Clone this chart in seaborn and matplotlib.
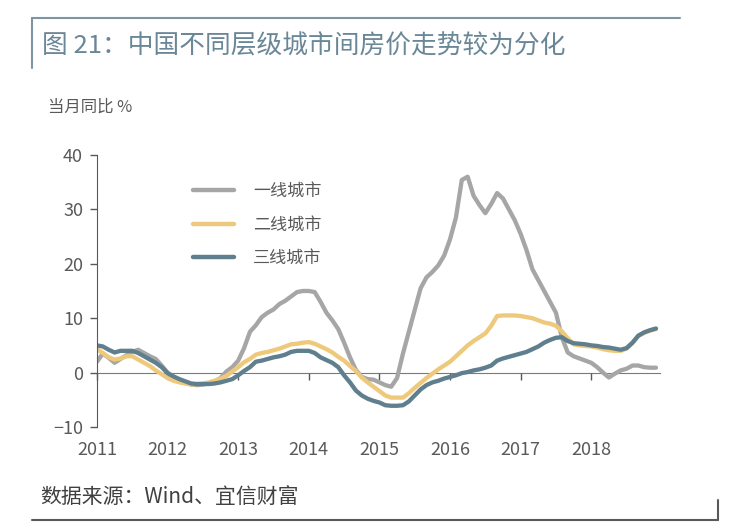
import numpy as np
import pandas as pd
import matplotlib
matplotlib.use('Agg')
import matplotlib.pyplot as plt
from matplotlib.lines import Line2D
import seaborn as sns

# 月度数据 2011-01 ~ 2018-12, 当月同比 %
tier1 = [2.0, 3.5, 2.7, 1.8, 2.5, 3.2, 3.8, 4.2, 3.6, 3.0, 2.5, 1.3,
         0.0, -0.8, -1.3, -1.8, -2.2, -2.3, -2.2, -2.0, -1.6, -1.0, 0.2, 1.0,
         2.2, 4.5, 7.5, 8.7, 10.2, 11.0, 11.6, 12.6, 13.2, 14.0, 14.8, 15.0,
         15.0, 14.8, 13.0, 11.0, 9.6, 8.0, 5.5, 2.8, 0.5, -0.8, -1.2, -1.3,
         -1.8, -2.3, -2.6, -1.0, 3.5, 7.5, 11.5, 15.5, 17.5, 18.5, 19.7, 21.5,
         24.5, 28.5, 35.4, 36.0, 32.5, 30.8, 29.3, 31.0, 33.0, 32.0, 30.0, 28.0,
         25.5, 22.5, 19.0, 17.0, 15.0, 13.0, 11.0, 6.5, 3.7, 3.0, 2.6, 2.2,
         1.8, 1.0, 0.0, -0.9, -0.2, 0.4, 0.7, 1.3, 1.3, 1.0, 0.9, 0.9]
tier2 = [4.3, 3.6, 2.8, 2.4, 2.6, 3.0, 3.0, 2.4, 1.8, 1.2, 0.4, -0.3,
         -1.0, -1.5, -1.8, -2.0, -2.2, -2.1, -2.0, -1.8, -1.5, -1.1, -0.6, 0.2,
         1.0, 1.9, 2.5, 3.3, 3.6, 3.8, 4.1, 4.4, 4.8, 5.2, 5.3, 5.5,
         5.6, 5.3, 4.8, 4.3, 3.7, 2.9, 2.2, 1.2, 0.3, -0.9, -1.8, -2.6,
         -3.4, -4.2, -4.6, -4.6, -4.6, -3.8, -2.8, -1.9, -1.0, -0.2, 0.6, 1.3,
         2.0, 3.0, 4.0, 5.0, 5.8, 6.5, 7.2, 8.6, 10.4, 10.5, 10.5, 10.5,
         10.4, 10.2, 10.0, 9.6, 9.2, 9.0, 8.6, 7.6, 6.3, 5.2, 5.0, 4.9,
         4.8, 4.6, 4.3, 4.1, 4.0, 4.0, 4.4, 5.4, 6.7, 7.3, 7.7, 8.0]
tier3 = [5.0, 4.8, 4.2, 3.7, 4.0, 4.0, 4.0, 3.6, 3.0, 2.4, 1.8, 1.0,
         -0.1, -0.7, -1.2, -1.6, -2.0, -2.1, -2.1, -2.1, -2.0, -1.8, -1.5, -1.2,
         -0.5, 0.3, 1.0, 2.0, 2.2, 2.5, 2.8, 3.0, 3.3, 3.8, 4.0, 4.0,
         4.0, 3.6, 2.8, 2.3, 1.8, 1.0, -0.5, -1.8, -3.3, -4.2, -4.8, -5.2,
         -5.5, -6.0, -6.1, -6.1, -6.0, -5.3, -4.2, -3.1, -2.3, -1.8, -1.5, -1.1,
         -0.8, -0.5, -0.1, 0.1, 0.4, 0.6, 0.9, 1.3, 2.2, 2.6, 2.9, 3.2,
         3.5, 3.8, 4.3, 4.8, 5.5, 6.0, 6.4, 6.5, 5.8, 5.4, 5.3, 5.2,
         5.0, 4.9, 4.7, 4.6, 4.4, 4.2, 4.5, 5.5, 6.8, 7.4, 7.8, 8.1]
series_names = ['一线城市', '二线城市', '三线城市']
colors = ['#a6a6a6', '#efc97b', '#5f7f8e']
year_ticks = [2011, 2012, 2013, 2014, 2015, 2016, 2017, 2018]
y_ticks = [-10, 0, 10, 20, 30, 40]

t = 2011 + np.arange(len(tier1)) / 12
df = pd.DataFrame({
    't': np.concatenate([t, t, t]),
    'val': tier1 + tier2 + tier3,
    'city': np.repeat(series_names, len(t)),
})

sns.set_style('white')
plt.rcParams['font.family'] = ['Noto Sans CJK SC', 'DejaVu Sans']

fig = plt.figure(figsize=(7.54, 5.28), dpi=100)
ax = fig.add_axes([0.1286, 0.1913, 0.7464, 0.5152])

sns.lineplot(data=df, x='t', y='val', hue='city', hue_order=series_names,
             palette=dict(zip(series_names, colors)), linewidth=3.1,
             solid_capstyle='round', ax=ax)

ax.set_xlim(2011, 2018.97)
ax.set_ylim(-10, 40)
ax.set_xticks(year_ticks)
ax.set_xticklabels([str(y) for y in year_ticks])
ax.set_yticks(y_ticks)
ax.set_yticklabels(['−10', '0', '10', '20', '30', '40'])
ax.set_xlabel('')
ax.set_ylabel('')

for s in ['top', 'right']:
    ax.spines[s].set_visible(False)
ax.spines['bottom'].set_position(('data', 0))
ax.spines['bottom'].set_color('#7a7a7a')
ax.spines['left'].set_color('#595959')
ax.spines['bottom'].set_zorder(0.5)

ax.tick_params(axis='y', direction='out', length=5, width=1, color='#595959',
               labelsize=13, labelcolor='#595959', pad=5, left=True)
ax.tick_params(axis='x', direction='out', length=5, width=1, color='#595959',
               labelsize=13, labelcolor='#595959', pad=44, bottom=True)

sns.move_legend(ax, 'upper left', bbox_to_anchor=(0.17, 0.90), frameon=False,
                title=None, fontsize=12.3, handlelength=2.45, handletextpad=1.1,
                labelspacing=0.9, borderpad=0, borderaxespad=0)
leg = ax.get_legend()
for ln in leg.get_lines():
    ln.set_linewidth(3.2)
    ln.set_solid_capstyle('round')
for tx in leg.get_texts():
    tx.set_color('#595959')

# 标题与来源
fig.text(42 / 754, 1 - 47 / 528, '图 21：中国不同层级城市间房价走势较为分化',
         fontsize=18.5, color='#6a8797', va='center', ha='left')
fig.text(48 / 754, 1 - 107 / 528, '当月同比 %', fontsize=11.8,
         color='#595959', va='center', ha='left')
fig.text(40 / 754, 1 - 497 / 528, '数据来源：Wind、宜信财富', fontsize=15,
         color='#404040', va='center', ha='left')

# 边框装饰线
fig.add_artist(Line2D([32 / 754, 680 / 754], [1 - 18 / 528, 1 - 18 / 528],
                      color='#7f95a3', lw=1.5))
fig.add_artist(Line2D([32 / 754, 32 / 754], [1 - 18 / 528, 1 - 68 / 528],
                      color='#7f95a3', lw=1.5))
fig.add_artist(Line2D([32 / 754, 718 / 754], [1 - 520 / 528, 1 - 520 / 528],
                      color='#595959', lw=1.5))
fig.add_artist(Line2D([718 / 754, 718 / 754], [1 - 500 / 528, 1 - 520 / 528],
                      color='#595959', lw=1.5))

fig.savefig('out.png', dpi=100)
